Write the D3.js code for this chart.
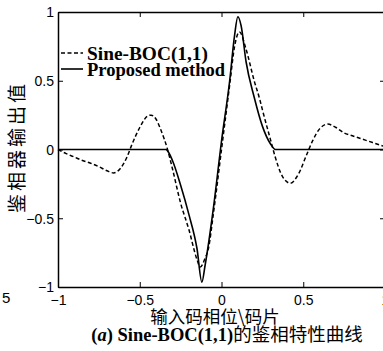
<!DOCTYPE html>
<html><head><meta charset="utf-8">
<script src="https://cdn.jsdelivr.net/npm/d3@7"></script>
<style>
html,body{margin:0;padding:0;background:#fff;}
svg{display:block;}
</style></head>
<body>
<svg id="c" width="383" height="351"></svg>
<script>
// Data
const sineBocX = [-1,-0.95,-0.9,-0.85,-0.8,-0.75,-0.7,-0.66,-0.62,-0.58,-0.55,-0.5,-0.45,-0.43,-0.4,-0.37,-0.33,-0.3,-0.25,-0.2,-0.15,-0.13,-0.1,-0.08,-0.05,0,0.05,0.08,0.11,0.15,0.2,0.235,0.25,0.3,0.33,0.37,0.42,0.47,0.52,0.56,0.6,0.65,0.7,0.75,0.8,0.85,0.9,0.95,1];
const sineBocY = [0,-0.03,-0.055,-0.08,-0.1,-0.125,-0.155,-0.17,-0.14,-0.06,0.03,0.16,0.245,0.25,0.22,0.14,0,-0.14,-0.39,-0.58,-0.8,-0.855,-0.79,-0.72,-0.47,0,0.47,0.75,0.855,0.73,0.5,0.36,0.29,0.07,-0.06,-0.19,-0.245,-0.18,-0.04,0.07,0.15,0.185,0.16,0.12,0.1,0.08,0.06,0.04,0.02];
const proposedX = [-1,-0.8,-0.6,-0.4,-0.34,-0.33,-0.3,-0.25,-0.2,-0.15,-0.12,-0.1,-0.05,0,0.05,0.08,0.1,0.12,0.15,0.2,0.25,0.3,0.33,0.4,0.6,0.8,1];
const proposedY = [0,0,0,0,0,-0.01,-0.08,-0.26,-0.47,-0.72,-0.965,-0.84,-0.43,0.06,0.5,0.83,0.965,0.9,0.64,0.38,0.17,0.04,0,0,0,0,0];
const xTicks = [-1,-0.5,0,0.5,1];
const yTicks = [-1,-0.5,0,0.5,1];
const seriesNames = ["Sine-BOC(1,1)","Proposed method"];
const xLabel = "输入码相位\\码片";
const yLabel = "鉴相器输出值";

const svg = d3.select("#c");
const L = 58, R = 385, T = 12, B = 287;
const x = d3.scaleLinear().domain([-1,1]).range([L,R]);
const y = d3.scaleLinear().domain([-1,1]).range([B,T]);

const tickFont = "'Liberation Sans', Arial, sans-serif";
const serif = "'Liberation Serif', 'Times New Roman', serif";
const cjk = "'Noto Sans CJK SC', sans-serif";

// axes with inward ticks
const xAxis = d3.axisBottom(x).tickValues(xTicks).tickSizeInner(-5).tickSizeOuter(0).tickPadding(8)
  .tickFormat(d => d3.format("")(d));
const gx = svg.append("g").attr("transform",`translate(0,${B})`).call(xAxis);
const yAxis = d3.axisLeft(y).tickValues(yTicks).tickSizeInner(-5).tickSizeOuter(0).tickPadding(4)
  .tickFormat(d => d3.format("")(d));
const gy = svg.append("g").attr("transform",`translate(${L},0)`).call(yAxis);
const gt = svg.append("g").attr("transform",`translate(0,${T})`)
  .call(d3.axisTop(x).tickValues(xTicks).tickSizeInner(-5).tickSizeOuter(0).tickFormat(""));
const gr = svg.append("g").attr("transform",`translate(${R},0)`)
  .call(d3.axisRight(y).tickValues(yTicks).tickSizeInner(-5).tickSizeOuter(0).tickFormat(""));
[gx,gy,gt,gr].forEach(g=>{
  g.selectAll("path.domain").attr("stroke","#000").attr("stroke-width",1.5);
  g.selectAll(".tick line").attr("stroke","#000").attr("stroke-width",1);
  g.selectAll(".tick text").attr("fill","#000").style("font-family",tickFont).style("font-size","14px");
});
gy.selectAll(".tick text").attr("dy","0.35em");

// curves
const line = d3.line().x(d=>x(d[0])).y(d=>y(d[1])).curve(d3.curveMonotoneX);
const dashData = sineBocX.map((v,i)=>[v,sineBocY[i]]);
const solidData = proposedX.map((v,i)=>[v,proposedY[i]]);
svg.append("path").datum(solidData).attr("d",line).attr("fill","none")
  .attr("stroke","#000").attr("stroke-width",1.6);
svg.append("path").datum(dashData).attr("d",line).attr("fill","none")
  .attr("stroke","#000").attr("stroke-width",1.5).attr("stroke-dasharray","4,2.5");

// legend
const leg = svg.append("g");
leg.append("line").attr("x1",61).attr("x2",83).attr("y1",53).attr("y2",53)
  .attr("stroke","#000").attr("stroke-width",1.5).attr("stroke-dasharray","4,2.5");
leg.append("line").attr("x1",61).attr("x2",83).attr("y1",69).attr("y2",69)
  .attr("stroke","#000").attr("stroke-width",1.6);
leg.append("text").attr("x",87).attr("y",60).text(seriesNames[0])
  .attr("textLength",121).attr("lengthAdjust","spacingAndGlyphs")
  .style("font-family",serif).style("font-size","19px").style("font-weight","600");
leg.append("text").attr("x",87).attr("y",76).text(seriesNames[1])
  .attr("textLength",138).attr("lengthAdjust","spacingAndGlyphs")
  .style("font-family",serif).style("font-size","19px").style("font-weight","600");

// axis labels
svg.append("text").attr("transform","translate(24,147) rotate(-90)").attr("text-anchor","middle")
  .style("font-family",cjk).style("font-size","19px")
  .style("letter-spacing","3px").text(yLabel);
svg.append("text").attr("x",215).attr("y",323).attr("text-anchor","middle")
  .style("font-family",cjk).style("font-size","17.5px").text(xLabel);

// caption
const cap = svg.append("text").attr("x",227).attr("y",341).attr("text-anchor","middle")
  .style("font-size","18.5px");
cap.append("tspan").style("font-family",serif).style("font-weight","bold").text("(");
cap.append("tspan").style("font-family",serif).style("font-weight","bold").style("font-style","italic").text("a");
cap.append("tspan").style("font-family",serif).style("font-weight","bold").text(") Sine-BOC(1,1)");
cap.append("tspan").style("font-family",cjk).text("的鉴相特性曲线");

// stray label from neighbouring figure
svg.append("text").attr("x",2).attr("y",303).style("font-family",tickFont).style("font-size","15px").text("5");
</script>
</body></html>
